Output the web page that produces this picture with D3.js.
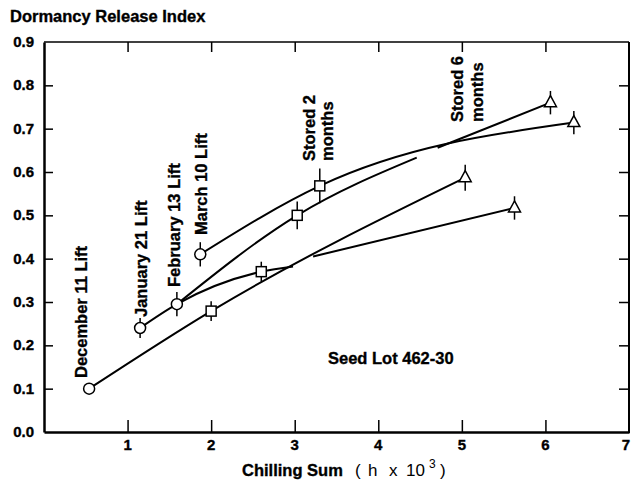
<!DOCTYPE html>
<html>
<head>
<meta charset="utf-8">
<script src="https://cdn.jsdelivr.net/npm/d3@7"></script>
<style>
  body { margin: 0; background: white; }
  text { font-family: "Liberation Sans", Arial, sans-serif; fill: black; }
  .heavy { font-weight: bold; stroke: black; stroke-width: 0.35px; }
</style>
</head>
<body>
<div id="container"></div>
<script>
let w = 631;
let h = 481;

// DATA
let xTicks = [1, 2, 3, 4, 5, 6, 7];
let yTicks = [0, 0.1, 0.2, 0.3, 0.4, 0.5, 0.6, 0.7, 0.8, 0.9];

let liftLabels = ["December 11 Lift", "January 21 Lift", "February 13 Lift", "March 10 Lift"];
let liftX = [0.54, 1.15, 1.59, 1.87];
let liftY = [0.10, 0.24, 0.295, 0.41];
let liftErr = [0, 0.023, 0.028, 0.028];

let stored2X = [2.0, 2.6, 3.03, 3.3];
let stored2Y = [0.279, 0.37, 0.50, 0.568];
let stored2Err = [0.023, 0.023, 0.032, 0.04];

let stored6X = [5.04, 5.63, 6.06, 6.34];
let stored6Y = [0.587, 0.517, 0.76, 0.714];
let stored6Err = [0.03, 0.027, 0.027, 0.027];

// curves as drawn, incl. the spots where a curve stops on its neighbour
let curveDec = [[0.54, 0.10], [2.0, 0.279], [5.04, 0.587]];
let curveJanA = [[1.15, 0.24], [1.59, 0.295], [2.6, 0.37], [2.98, 0.382]];
let curveJanB = [[3.22, 0.405], [5.63, 0.517]];
let curveFebA = [[1.59, 0.295], [3.03, 0.50], [4.46, 0.633]];
let curveFebB = [[4.71, 0.656], [6.06, 0.76]];
let curveMar = [[1.87, 0.41], [3.3, 0.568], [6.34, 0.714]];

// SVG
let viz = d3.select("#container").append("svg")
    .attr("width", w)
    .attr("height", h)
    .style("display", "block")
    .style("background-color", "white");

// SCALES
let xScale = d3.scaleLinear().domain([0, 7]).range([44, 629]);
let yScale = d3.scaleLinear().domain([0, 0.9]).range([432, 42]);

// frame: heavy left + bottom, lighter top + right
viz.append("line").attr("x1", 44).attr("x2", 629).attr("y1", 42).attr("y2", 42)
  .attr("stroke", "black").attr("stroke-width", 1.5);
viz.append("line").attr("x1", 629).attr("x2", 629).attr("y1", 42).attr("y2", 433)
  .attr("stroke", "black").attr("stroke-width", 2);

// AXES (ticks point inwards)
let bottomAxis = d3.axisBottom(xScale).tickValues(xTicks.slice(0, 6))
  .tickSizeInner(-12).tickSizeOuter(0).tickFormat("");
let topAxis = d3.axisTop(xScale).tickValues(xTicks.slice(0, 6))
  .tickSizeInner(-10).tickSizeOuter(0).tickFormat("");
let leftAxis = d3.axisLeft(yScale).tickValues(yTicks.slice(1, 9))
  .tickSizeInner(-9).tickSizeOuter(0).tickFormat("");
let rightAxis = d3.axisRight(yScale).tickValues(yTicks.slice(1, 9))
  .tickSizeInner(-10).tickSizeOuter(0).tickFormat("");

viz.append("g").attr("transform", "translate(0,42)").call(topAxis)
  .call(g => g.select(".domain").remove())
  .selectAll("line").attr("stroke-width", 1.5);
viz.append("g").attr("transform", "translate(629,0)").call(rightAxis)
  .call(g => g.select(".domain").remove())
  .selectAll("line").attr("stroke-width", 1.5);
viz.append("g").attr("transform", "translate(0,432)").call(bottomAxis)
  .call(g => g.select(".domain").attr("stroke-width", 2.5))
  .selectAll("line").attr("stroke-width", 1.5);
viz.append("g").attr("transform", "translate(44,0)").call(leftAxis)
  .call(g => g.select(".domain").attr("stroke-width", 2.5))
  .selectAll("line").attr("stroke-width", 1.5);

// tick labels
viz.selectAll(".xlab").data(xTicks).enter()
  .append("text")
    .attr("class", "xlab heavy")
    .attr("x", d => d == 7 ? 630 : xScale(d))
    .attr("y", 450)
    .attr("text-anchor", d => d == 7 ? "end" : "middle")
    .style("font-size", "15px")
    .text(d => d);

viz.selectAll(".ylab").data(yTicks).enter()
  .append("text")
    .attr("class", "ylab heavy")
    .attr("x", 34)
    .attr("y", d => yScale(d) + 5)
    .attr("text-anchor", "end")
    .style("font-size", "15px")
    .text(d => d3.format(".1f")(d));

// titles
viz.append("text")
  .attr("class", "heavy")
  .attr("x", 10).attr("y", 22)
  .style("font-size", "16.5px")
  .text("Dormancy Release Index");

viz.append("text")
  .attr("class", "heavy")
  .attr("x", 242).attr("y", 476)
  .style("font-size", "16.5px")
  .text("Chilling Sum");
let unitParts = [["(", 355], ["h", 368], ["x", 389], ["10", 406], [")", 440]];
viz.selectAll(".unit").data(unitParts).enter()
  .append("text")
    .attr("class", "unit")
    .attr("x", d => d[1])
    .attr("y", 476)
    .style("font-size", "17px")
    .text(d => d[0]);
viz.append("text")
  .attr("x", 429).attr("y", 468)
  .style("font-size", "12px")
  .text("3");

viz.append("text")
  .attr("class", "heavy")
  .attr("x", 328).attr("y", 364)
  .style("font-size", "16.5px")
  .text("Seed Lot 462-30");

// CURVES
let lineMaker = d3.line()
  .x(d => xScale(d[0]))
  .y(d => yScale(d[1]))
  .curve(d3.curveMonotoneX);

viz.selectAll(".curve")
  .data([curveDec, curveJanA, curveJanB, curveFebA, curveFebB, curveMar]).enter()
  .append("path")
    .attr("class", "curve")
    .attr("d", lineMaker)
    .attr("fill", "none")
    .attr("stroke", "black")
    .attr("stroke-width", 2);

// ERROR BARS
function errBars(xs, ys, es) {
  viz.append("g").selectAll("line").data(xs).enter()
    .append("line")
      .attr("x1", d => xScale(d))
      .attr("x2", d => xScale(d))
      .attr("y1", (d, i) => yScale(ys[i] + es[i]))
      .attr("y2", (d, i) => yScale(ys[i] - es[i]))
      .attr("stroke", "black")
      .attr("stroke-width", 1.5);
}
errBars(liftX, liftY, liftErr);
errBars(stored2X, stored2Y, stored2Err);
errBars(stored6X, stored6Y, stored6Err);

// MARKERS
viz.selectAll(".lift").data(liftX).enter()
  .append("circle")
    .attr("class", "lift")
    .attr("cx", d => xScale(d))
    .attr("cy", (d, i) => yScale(liftY[i]))
    .attr("r", 5.5)
    .attr("fill", "white")
    .attr("stroke", "black")
    .attr("stroke-width", 1.5);

viz.selectAll(".s2").data(stored2X).enter()
  .append("rect")
    .attr("class", "s2")
    .attr("x", d => xScale(d) - 5)
    .attr("y", (d, i) => yScale(stored2Y[i]) - 5)
    .attr("width", 10)
    .attr("height", 10)
    .attr("fill", "white")
    .attr("stroke", "black")
    .attr("stroke-width", 1.5);

viz.selectAll(".s6").data(stored6X).enter()
  .append("path")
    .attr("class", "s6")
    .attr("d", "M0,-7L6,4L-6,4Z")
    .attr("transform", (d, i) => "translate(" + xScale(d) + "," + yScale(stored6Y[i]) + ")")
    .attr("fill", "white")
    .attr("stroke", "black")
    .attr("stroke-width", 1.5);

// ROTATED LABELS
let liftPos = [[87, 378], [147, 317], [180, 287], [207, 235]];
viz.selectAll(".liftlab").data(liftLabels).enter()
  .append("text")
    .attr("class", "liftlab heavy")
    .attr("transform", (d, i) => "translate(" + liftPos[i][0] + "," + liftPos[i][1] + ") rotate(-90)")
    .style("font-size", "16.5px")
    .text(d => d);

function storedLabel(x, y, num, gap) {
  let t = viz.append("text")
    .attr("class", "heavy")
    .attr("transform", "translate(" + x + "," + y + ") rotate(-90)")
    .style("font-size", "16.5px");
  t.append("tspan").attr("x", 0).attr("y", 0).text("Stored " + num);
  t.append("tspan").attr("x", 0).attr("y", gap).text("months");
}
storedLabel(315, 161, 2, 18);
storedLabel(463, 122, 6, 20);
</script>
</body>
</html>
